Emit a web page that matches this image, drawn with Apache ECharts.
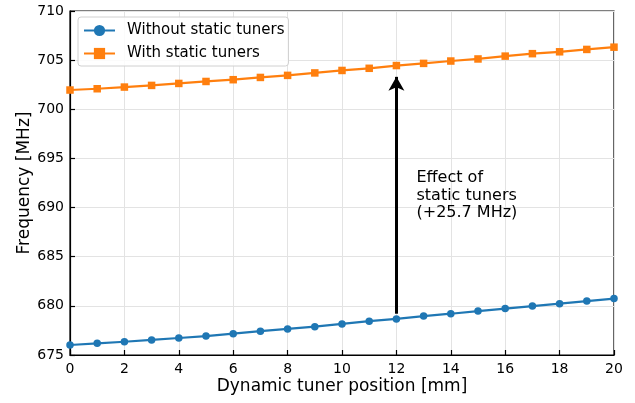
<!DOCTYPE html>
<html>
<head>
<meta charset="utf-8">
<script src="https://cdn.jsdelivr.net/npm/echarts@6/dist/echarts.min.js"></script>
<style>
html,body{margin:0;padding:0;background:#fff;}
#chart{width:635px;height:403px;}
</style>
</head>
<body>
<div id="chart"></div>
<script>
const positions = [0,1,2,3,4,5,6,7,8,9,10,11,12,13,14,15,16,17,18,19,20];
const withoutTuners = [676.02,676.19,676.35,676.53,676.73,676.93,677.17,677.42,677.65,677.88,678.16,678.44,678.67,678.96,679.2,679.47,679.72,679.98,680.22,680.49,680.74];
const withTuners = [701.96,702.09,702.26,702.43,702.63,702.83,703.01,703.24,703.45,703.7,703.95,704.17,704.45,704.67,704.91,705.12,705.41,705.66,705.85,706.09,706.32];
const seriesNames = ['Without static tuners','With static tuners'];
const arrowFrom = [12, 679.2];
const arrowTo = [12, 703.3];
const annotationPos = [12.72, 691.2];
const annotationText = 'Effect of\nstatic tuners\n(+25.7 MHz)';

const font = 'DejaVu Sans';
const chart = echarts.init(document.getElementById('chart'), null, {renderer:'canvas'});
const pairs = arr => positions.map((x,i)=>[x, arr[i]]);

chart.setOption({
  animation:false,
  backgroundColor:'#fff',
  textStyle:{fontFamily:font},
  grid:{left:70,right:21,top:11,bottom:48,show:true,borderColor:'#000',borderWidth:1.2,backgroundColor:'transparent'},
  legend:{
    orient:'vertical', left:78, top:17,
    padding:[6,4,5,5], itemGap:8,
    itemWidth:31, itemHeight:14,
    backgroundColor:'rgba(255,255,255,0.85)',
    borderColor:'#d0d0d0', borderWidth:1, borderRadius:3,
    textStyle:{fontFamily:font,fontSize:15,color:'#000',padding:[0,0,0,7]},
    data:seriesNames
  },
  xAxis:{
    type:'value', min:0, max:20, interval:2,
    name:'Dynamic tuner position [mm]', nameLocation:'middle', nameGap:23,
    nameMoveOverlap:false,
    nameTextStyle:{fontFamily:font,fontSize:17,color:'#000'},
    axisLine:{show:true,lineStyle:{color:'#000',width:1.2}},
    axisTick:{show:true,inside:true,length:5,lineStyle:{color:'#000',width:1.2}},
    axisLabel:{fontFamily:font,fontSize:14,color:'#000',margin:7},
    splitLine:{show:true,lineStyle:{color:'#e3e3e3',width:1}}
  },
  yAxis:{
    type:'value', min:675, max:710, interval:5,
    name:'Frequency [MHz]', nameLocation:'middle', nameGap:37,
    nameMoveOverlap:false,
    nameTextStyle:{fontFamily:font,fontSize:17,color:'#000'},
    axisLine:{show:true,lineStyle:{color:'#000',width:1.2}},
    axisTick:{show:true,inside:true,length:5,lineStyle:{color:'#000',width:1.2}},
    axisLabel:{fontFamily:font,fontSize:14,color:'#000',margin:6},
    splitLine:{show:true,lineStyle:{color:'#e3e3e3',width:1}}
  },
  series:[
    {
      name:seriesNames[0], type:'line', data:pairs(withoutTuners),
      symbol:'circle', symbolSize:7.5,
      lineStyle:{color:'#1f77b4',width:2.2},
      itemStyle:{color:'#1f77b4'},
      z:3,
      markLine:{
        silent:true, symbol:['none','arrow'], symbolSize:[12,14],
        lineStyle:{color:'#000',width:3,type:'solid'},
        label:{show:false},
        data:[[{coord:arrowFrom},{coord:arrowTo}]]
      },
      markPoint:{
        silent:true, symbol:'circle', symbolSize:1,
        itemStyle:{color:'transparent'},
        label:{show:true,position:'right',distance:0,formatter:annotationText,
          fontFamily:font,fontSize:16,color:'#000',lineHeight:17.5,align:'left'},
        data:[{coord:annotationPos}]
      }
    },
    {
      name:seriesNames[1], type:'line', data:pairs(withTuners),
      symbol:'rect', symbolSize:7.5,
      lineStyle:{color:'#ff7f0e',width:2.2},
      itemStyle:{color:'#ff7f0e'},
      z:3
    }
  ]
});
</script>
</body>
</html>
